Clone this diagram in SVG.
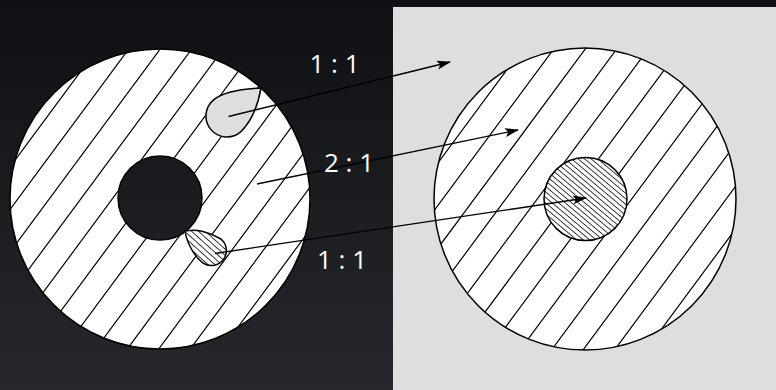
<svg xmlns="http://www.w3.org/2000/svg" xmlns:xlink="http://www.w3.org/1999/xlink" width="776" height="390" viewBox="0 0 776 390">
<style>
.outline{stroke:#000;stroke-width:1.5;}
.hatch{stroke:#000;stroke-width:1.2;fill:none;}
.conn{stroke:#000;stroke-width:1.4;fill:none;marker-end:url(#arrow);}
.lbl{font-family:"Open Sans","Liberation Sans",sans-serif;font-weight:400;font-size:26px;fill:#ffffff;text-anchor:middle;}
</style>
<defs>
<linearGradient id="bg" gradientUnits="userSpaceOnUse" x1="0" y1="0" x2="0" y2="390">
<stop offset="0" stop-color="#0f1013"/>
<stop offset="1" stop-color="#26282d"/>
</linearGradient>
<pattern id="dense" patternUnits="userSpaceOnUse" width="10" height="4.2" patternTransform="rotate(40)">
<rect width="10" height="4.2" fill="#fff"/>
<line x1="0" y1="2.1" x2="10" y2="2.1" stroke="#000" stroke-width="0.8"/>
</pattern>
<pattern id="dense2" patternUnits="userSpaceOnUse" width="10" height="4.6" patternTransform="rotate(42)">
<rect width="10" height="4.6" fill="#fff"/>
<line x1="0" y1="2.3" x2="10" y2="2.3" stroke="#000" stroke-width="0.8"/>
</pattern>
<clipPath id="clipL" clipPathUnits="userSpaceOnUse"><circle cx="160" cy="199" r="150"/></clipPath>
<clipPath id="clipR" clipPathUnits="userSpaceOnUse"><circle cx="585" cy="199" r="151"/></clipPath>
<marker id="arrow" markerWidth="14" markerHeight="10" refX="13" refY="4.5" orient="auto" markerUnits="userSpaceOnUse">
<path d="M0 0L14 4.5L0 9L3 4.5Z" fill="#000"/>
</marker>
</defs>
<rect width="776" height="390" fill="url(#bg)"/>
<rect id="panel" x="393" y="7" width="383" height="383" fill="#dedede"/>

<g id="left-disc">
<circle cx="160" cy="199" r="150" fill="#fff"/>
<g clip-path="url(#clipL)">
<path class="hatch" d="M103.9 40L-132.9 360M135.4 40L-101.4 360M166.9 40L-69.9 360M198.4 40L-38.4 360M229.9 40L-6.9 360M261.4 40L24.6 360M292.9 40L56.1 360M324.4 40L87.6 360M355.9 40L119.1 360M387.4 40L150.6 360M418.9 40L182.1 360M450.4 40L213.6 360"/>
</g>
<circle cx="160" cy="199" r="150" fill="none" class="outline"/>
<circle id="hole" cx="160" cy="198" r="42" fill="url(#bg)" class="outline" stroke-width="1"/>
</g>

<g id="drop-gray">
<path d="M261 88C258 105 251 122 240.4 132.2A21 21 0 0 1 213.6 99.8C223 92 243 89 261 88Z" fill="#dedede" class="outline"/>
</g>

<g id="drop-hatched">
<path d="M185 231C197 229 206 231 220.9 239A15 15 0 0 1 203.1 263.1C195 257 187 244 185 231Z" fill="url(#dense2)" class="outline" stroke-width="1.3"/>
</g>

<g id="right-disc">
<circle cx="585" cy="199" r="151" fill="#fff"/>
<g clip-path="url(#clipR)">
<path class="hatch" d="M528.9 40L292.1 360M560.4 40L323.6 360M591.9 40L355.1 360M623.4 40L386.6 360M654.9 40L418.1 360M686.4 40L449.6 360M717.9 40L481.1 360M749.4 40L512.6 360M780.9 40L544.1 360M812.4 40L575.6 360M843.9 40L607.1 360M875.4 40L638.6 360"/>
</g>
<circle cx="585" cy="199" r="151" fill="none" class="outline"/>
</g>

<g id="core">
<circle cx="585.5" cy="199" r="41.5" fill="url(#dense)" class="outline"/>
</g>

<g id="connectors">
<line class="conn" x1="228.5" y1="116.5" x2="450" y2="62"/>
<line class="conn" x1="257" y1="184" x2="518" y2="130"/>
<line class="conn" x1="215" y1="253.5" x2="586" y2="198"/>
</g>

<g id="labels">
<text class="lbl" x="334.5" y="73">1 : 1</text>
<text class="lbl" x="349" y="172">2 : 1</text>
<text class="lbl" x="342" y="269">1 : 1</text>
</g>
</svg>
